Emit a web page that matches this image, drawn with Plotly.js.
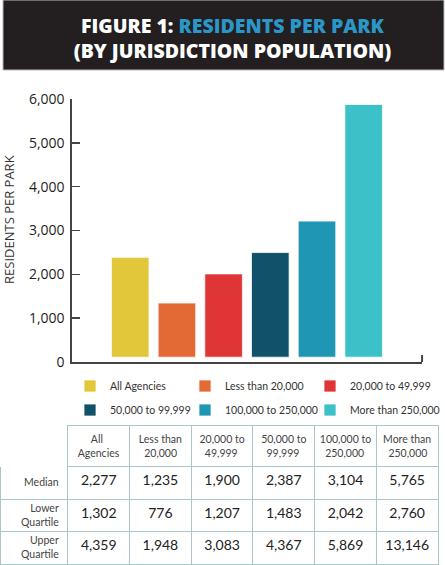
<!DOCTYPE html>
<html>
<head>
<meta charset="utf-8">
<script src="https://cdn.plot.ly/plotly-3.0.1.min.js"></script>
<style>html,body{margin:0;padding:0;background:#fff;}#chart{width:445px;height:565px;}</style>
</head>
<body>
<div id="chart"></div>
<script>
// ---- data ----
var categories = ["All Agencies", "Less than 20,000", "20,000 to 49,999", "50,000 to 99,999", "100,000 to 250,000", "More than 250,000"];
var headerTop = ["All", "Less than", "20,000 to", "50,000 to", "100,000 to", "More than"];
var headerBottom = ["Agencies", "20,000", "49,999", "99,999", "250,000", "250,000"];
var median = [2277, 1235, 1900, 2387, 3104, 5765];
var lowerQuartile = [1302, 776, 1207, 1483, 2042, 2760];
var upperQuartile = [4359, 1948, 3083, 4367, 5869, 13146];
var rowLabels = ["Median", "Lower<br>Quartile", "Upper<br>Quartile"];
var yTicks = [0, 1000, 2000, 3000, 4000, 5000, 6000];

// ---- styles ----
var colors = ["#E3C73B", "#E36935", "#E03536", "#12516A", "#1F96B4", "#3DC1C8"];
var W = 445, H = 565;
var legendIds = ["legend", "legend2", "legend3"];
var gridColor = "#a9c7c8";
var smallFont = "Lato, sans-serif";
var headerSize = 10.5;
var NBSP = "\u00a0";
var tableTop = 425, headerH = 41, rowH = 32.5, labelColW = 68;
var plotTop = 99, plotBottom = 362;

function fmt(v) { return v.toLocaleString("en-US"); }

var ctx = document.createElement("canvas").getContext("2d");
ctx.font = headerSize + "px Lato";
function centerLines(lines) {
  var ws = lines.map(function (l) { return ctx.measureText(l).width; });
  var mx = Math.max.apply(null, ws);
  var sp = ctx.measureText(NBSP).width || 2.7;
  return lines.map(function (l, i) {
    return new Array(Math.round((mx - ws[i]) / 2 / sp) + 1).join(NBSP) + l;
  }).join("<br>");
}

var traces = categories.map(function (c, i) {
  return {
    type: "bar",
    x: [c],
    y: [median[i]],
    base: 110,
    name: c,
    marker: { color: colors[i], line: { color: "rgba(255,255,255,0.75)", width: 1 } },
    legend: legendIds[i % 3],
    legendgroup: "g" + i,
    hoverinfo: "skip"
  };
});

var colWidths = [labelColW, 61.8, 61.8, 61.8, 61.8, 61.8, 61.8];
var headerVals = [""].concat(headerTop.map(function (t, i) { return centerLines([t, headerBottom[i]]); }));
var cellCols = [rowLabels.map(function () { return ""; })];
for (var i = 0; i < categories.length; i++) {
  cellCols.push([fmt(median[i]), fmt(lowerQuartile[i]), fmt(upperQuartile[i])]);
}
var headerLineColors = ["rgba(0,0,0,0)"].concat(categories.map(function () { return gridColor; }));

traces.push({
  type: "table",
  domain: { x: [0, 439 / W], y: [0, (H - tableTop) / H] },
  columnwidth: colWidths,
  header: {
    values: headerVals,
    height: headerH,
    align: "center",
    line: { color: headerLineColors, width: 1 },
    fill: { color: "white" },
    font: { family: smallFont, size: headerSize, color: "#444" }
  },
  cells: {
    values: cellCols,
    height: rowH,
    align: "center",
    line: { color: gridColor, width: 1 },
    fill: { color: "white" },
    font: { family: smallFont, size: 14, color: "#222" }
  }
});

// row labels (right-aligned, two lines) for the first table column
var rowLabelAnnotations = rowLabels.map(function (r, k) {
  return {
    text: r,
    xref: "paper", yref: "paper",
    x: (labelColW - 7) / W,
    y: 1 - (tableTop + headerH + rowH * (k + 0.5)) / H,
    xanchor: "right", yanchor: "middle", align: "right",
    showarrow: false,
    font: { family: smallFont, size: 10.5, color: "#444" }
  };
});

function legendAt(xpx) {
  return {
    orientation: "v",
    xanchor: "left",
    yanchor: "top",
    x: xpx / W,
    y: 1 - 371.5 / H,
    tracegroupgap: 5,
    font: { family: smallFont, size: 10.5, color: "#333" },
    bgcolor: "rgba(0,0,0,0)"
  };
}

var layout = {
  width: W,
  height: H,
  margin: { l: 0, r: 0, t: 0, b: 0, pad: 0 },
  paper_bgcolor: "white",
  plot_bgcolor: "white",
  showlegend: true,
  barmode: "overlay",
  bargap: 0.195,
  title: {
    text: 'FIGURE 1: <span style="color:#2B96C8">RESIDENTS PER PARK</span><br>(BY JURISDICTION POPULATION)',
    x: 233 / W,
    xanchor: "center",
    xref: "paper",
    y: 1 - 33 / H,
    yanchor: "middle",
    yref: "paper",
    font: { family: "Open Sans, sans-serif", size: 19.5, color: "white", weight: 800 }
  },
  xaxis: {
    domain: [72 / W, 423 / W],
    type: "category",
    range: [-1.25, 6.25],
    showticklabels: false,
    ticks: "",
    showline: true,
    linecolor: "#444",
    linewidth: 1.5,
    showgrid: false,
    zeroline: false,
    fixedrange: true
  },
  yaxis: {
    domain: [(H - plotBottom) / H, (H - plotTop) / H],
    range: [0, 6000],
    tickvals: yTicks,
    ticktext: yTicks.map(fmt),
    ticks: "inside",
    ticklen: 8,
    tickwidth: 1.5,
    tickcolor: "#444",
    ticklabelstandoff: 3,
    showline: true,
    linecolor: "#444",
    linewidth: 1.5,
    showgrid: false,
    zeroline: false,
    tickfont: { family: "Open Sans, sans-serif", size: 14, color: "#231F20" },
    fixedrange: true
  },
  legend: legendAt(70),
  legend2: legendAt(185),
  legend3: legendAt(311),
  shapes: [
    {
      type: "rect", xref: "paper", yref: "paper",
      x0: 3 / W, x1: 1, y0: 1 - 70 / H, y1: 1,
      fillcolor: "#231F20", line: { color: "#bbb", width: 1 }, layer: "below"
    },
    {
      type: "line", xref: "x domain", yref: "y domain",
      x0: 1, x1: 1, y0: 0, y1: 7 / (plotBottom - plotTop),
      line: { color: "#444", width: 2 }
    }
  ],
  annotations: [
    {
      text: "RESIDENTS PER PARK",
      xref: "paper", yref: "paper",
      x: 9 / W, y: 1 - 219 / H,
      xanchor: "center", yanchor: "middle",
      textangle: -90,
      showarrow: false,
      font: { family: "Open Sans, sans-serif", size: 13, color: "#333" }
    }
  ].concat(rowLabelAnnotations)
};

Plotly.newPlot("chart", traces, layout, { displayModeBar: false, staticPlot: true });
</script>
</body>
</html>
